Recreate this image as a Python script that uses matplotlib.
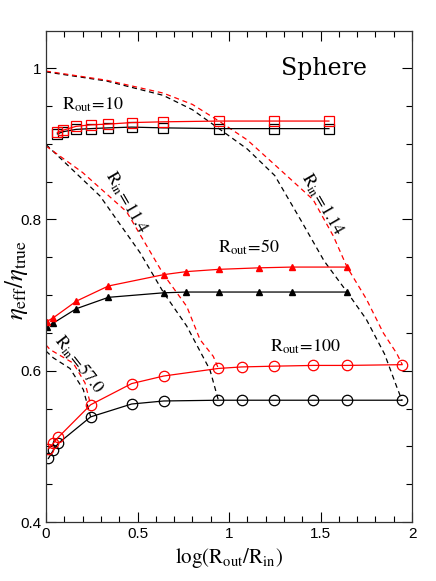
import matplotlib
matplotlib.use("Agg")
import matplotlib.pyplot as plt
from matplotlib.ticker import MultipleLocator

plt.rcParams['mathtext.fontset'] = 'stix'
plt.rcParams['font.family'] = 'Liberation Sans'

# R_out = 10 (squares)
x10 = [0.062, 0.095, 0.164, 0.244, 0.341, 0.468, 0.641, 0.945, 1.246, 1.546]
y10_black = [0.913, 0.916, 0.919, 0.920, 0.921, 0.922, 0.921, 0.920, 0.920, 0.920]
y10_red = [0.915, 0.918, 0.923, 0.925, 0.926, 0.928, 0.929, 0.930, 0.930, 0.930]

# R_out = 50 (triangles)
x50 = [0.004, 0.040, 0.166, 0.341, 0.643, 0.767, 0.945, 1.166, 1.344, 1.645]
y50_black = [0.658, 0.663, 0.682, 0.697, 0.703, 0.704, 0.704, 0.704, 0.704, 0.704]
y50_red = [0.665, 0.670, 0.692, 0.712, 0.727, 0.731, 0.734, 0.736, 0.737, 0.737]

# R_out = 100 (circles)
x100 = [0.013, 0.040, 0.067, 0.244, 0.468, 0.643, 0.942, 1.069, 1.246, 1.461, 1.643, 1.945]
y100_black = [0.484, 0.495, 0.504, 0.539, 0.556, 0.560, 0.561, 0.561, 0.561, 0.561, 0.561, 0.561]
y100_red = [0.497, 0.504, 0.512, 0.555, 0.583, 0.593, 0.603, 0.605, 0.606, 0.607, 0.607, 0.608]

# constant R_in curves (dashed)
xin114_black = [0.0, 0.33, 0.64, 0.80, 0.945, 1.10, 1.25, 1.39, 1.52, 1.645, 1.75, 1.85, 1.916, 1.945]
yin114_black = [0.995, 0.983, 0.964, 0.945, 0.920, 0.893, 0.858, 0.800, 0.745, 0.704, 0.668, 0.622, 0.579, 0.561]
xin114_red = [0.0, 0.33, 0.64, 0.80, 0.945, 1.10, 1.26, 1.46, 1.57, 1.645, 1.75, 1.843, 1.916, 1.947]
yin114_red = [0.996, 0.984, 0.967, 0.952, 0.930, 0.905, 0.870, 0.826, 0.778, 0.737, 0.695, 0.650, 0.623, 0.608]

xin114b_black = [0.0, 0.295, 0.514, 0.643, 0.769, 0.896, 0.942]
yin114b_black = [0.899, 0.831, 0.756, 0.703, 0.659, 0.601, 0.561]
xin114b_red = [0.0, 0.20, 0.441, 0.643, 0.769, 0.842, 0.914, 0.942]
yin114b_red = [0.897, 0.862, 0.810, 0.727, 0.685, 0.641, 0.619, 0.603]

xin57_black = [0.0, 0.04, 0.131, 0.204, 0.244]
yin57_black = [0.626, 0.617, 0.603, 0.575, 0.539]
xin57_red = [0.0, 0.022, 0.149, 0.213, 0.244]
yin57_red = [0.634, 0.628, 0.610, 0.584, 0.555]

RED = '#ff0000'

fig = plt.figure(figsize=(4.36, 5.81), dpi=100)
ax = fig.add_axes([0.1055, 0.1015, 0.8395, 0.8451])

dash = dict(lw=0.9, dashes=(4, 3))
ax.plot(xin114_black, yin114_black, '--', color='black', **dash)
ax.plot(xin114_red, yin114_red, '--', color=RED, **dash)
ax.plot(xin114b_black, yin114b_black, '--', color='black', **dash)
ax.plot(xin114b_red, yin114b_red, '--', color=RED, **dash)
ax.plot(xin57_black, yin57_black, '--', color='black', **dash)
ax.plot(xin57_red, yin57_red, '--', color=RED, **dash)

ax.plot(x10, y10_black, '-s', color='black', lw=0.9, ms=6.5, mfc='none', mew=0.9)
ax.plot(x10, y10_red, '-s', color=RED, lw=0.9, ms=6.5, mfc='none', mew=0.9)
ax.plot(x50, y50_black, '-^', color='black', lw=0.9, ms=5)
ax.plot(x50, y50_red, '-^', color=RED, lw=0.9, ms=5)
ax.plot(x100, y100_black, '-o', color='black', lw=0.9, ms=7.5, mfc='none', mew=0.9)
ax.plot(x100, y100_red, '-o', color=RED, lw=0.9, ms=7.5, mfc='none', mew=0.9)

ax.set_xlim(0, 2)
ax.set_ylim(0.4, 1.049)
ax.xaxis.set_minor_locator(MultipleLocator(0.1))
ax.yaxis.set_minor_locator(MultipleLocator(0.05))
ax.set_xticks([0, 0.5, 1, 1.5, 2])
ax.set_xticklabels(['0', '0.5', '1', '1.5', '2'])
ax.set_yticks([0.4, 0.6, 0.8, 1.0])
ax.set_yticklabels(['0.4', '0.6', '0.8', '1'])
ax.tick_params(which='both', direction='in', top=True, right=True, labelsize=11)
ax.tick_params(which='major', length=7, width=0.8)
ax.tick_params(which='minor', length=4, width=0.8)
for s in ax.spines.values():
    s.set_linewidth(0.9)
    s.set_color('#333333')

ax.text(1.755, 1.0, 'Sphere', fontsize=17, family='DejaVu Serif', ha='right', va='center')
ax.text(0.085, 0.951, r'$\mathrm{R_{out}\!=\!10}$', fontsize=13, ha='left', va='center')
ax.text(0.94, 0.763, r'$\mathrm{R_{out}\!=\!50}$', fontsize=13, ha='left', va='center')
ax.text(1.224, 0.632, r'$\mathrm{R_{out}\!=\!100}$', fontsize=13, ha='left', va='center')
ax.text(0.437, 0.822, r'$\mathrm{R_{in}\!=\!11.4}$', fontsize=13, rotation=-60, ha='center', va='center')
ax.text(1.508, 0.820, r'$\mathrm{R_{in}\!=\!1.14}$', fontsize=13, rotation=-60, ha='center', va='center')
ax.text(0.18, 0.608, r'$\mathrm{R_{in}\!=\!57.0}$', fontsize=13, rotation=-52, ha='center', va='center')

ax.set_xlabel(r'$\mathrm{log(R_{out}/R_{in})}$', fontsize=15, labelpad=4)
fig.text(16 / 436, 1 - 280 / 581, r'$\eta_{\mathrm{eff}}/\eta_{\mathrm{true}}$', fontsize=18,
         rotation=90, ha='center', va='center')

fig.savefig('out.png', dpi=100)
